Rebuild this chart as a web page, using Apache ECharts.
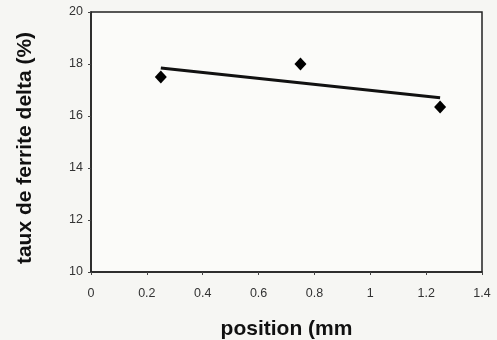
<!DOCTYPE html>
<html>
<head>
<meta charset="utf-8">
<script src="https://cdn.jsdelivr.net/npm/echarts@6/dist/echarts.min.js"></script>
<style>
html,body{margin:0;padding:0;background:#f6f6f3;}
#chart{width:497px;height:340px;}
</style>
</head>
<body>
<div id="chart"></div>
<script>
var positions = [0.25, 0.75, 1.25];
var ferrite = [17.5, 18.0, 16.35];
// droite de tendance
var trendX = [0.25, 1.25];
var trendY = [17.85, 16.7];

var myChart = echarts.init(document.getElementById('chart'));
var pts = positions.map(function(x, i){ return [x, ferrite[i]]; });
var trend = trendX.map(function(x, i){ return [x, trendY[i]]; });

option = {
    backgroundColor: '#f6f6f3',
    grid: {left: 91, right: 15, top: 12, bottom: 68, outerBoundsMode: 'none', show: true, backgroundColor: '#fbfbf9', borderColor: '#222', borderWidth: 1.5},
    xAxis: {
        type: 'value', min: 0, max: 1.4, interval: 0.2,
        name: 'position (mm', nameLocation: 'middle', nameGap: 47,
        nameTextStyle: {fontFamily: 'Liberation Sans', fontWeight: 'bold', fontSize: 21, color: '#111'},
        axisLine: {lineStyle: {color: '#222', width: 1.5}},
        axisTick: {show: true, length: 3, lineStyle: {color: '#444'}},
        axisLabel: {fontFamily: 'Liberation Sans', fontSize: 12.5, color: '#333', margin: 15},
        splitLine: {show: false}
    },
    yAxis: {
        type: 'value', min: 10, max: 20, interval: 2,
        name: 'taux de ferrite delta (%)', nameLocation: 'middle', nameGap: 55,
        nameTextStyle: {fontFamily: 'Liberation Sans', fontWeight: 'bold', fontSize: 21, color: '#111', padding: [0, 12, 0, 0]},
        axisLine: {lineStyle: {color: '#222', width: 1.5}},
        axisTick: {show: true, length: 3, lineStyle: {color: '#444'}},
        axisLabel: {fontFamily: 'Liberation Sans', fontSize: 12.5, color: '#333', margin: 8},
        splitLine: {show: false}
    },
    series: [
        {
            type: 'line', data: trend, symbol: 'none', silent: true,
            lineStyle: {color: '#111', width: 3}
        },
        {
            type: 'scatter', data: pts, symbol: 'diamond', symbolSize: [12, 13],
            itemStyle: {color: '#000', opacity: 1}
        }
    ]
};
myChart.setOption(option);
</script>
</body>
</html>
